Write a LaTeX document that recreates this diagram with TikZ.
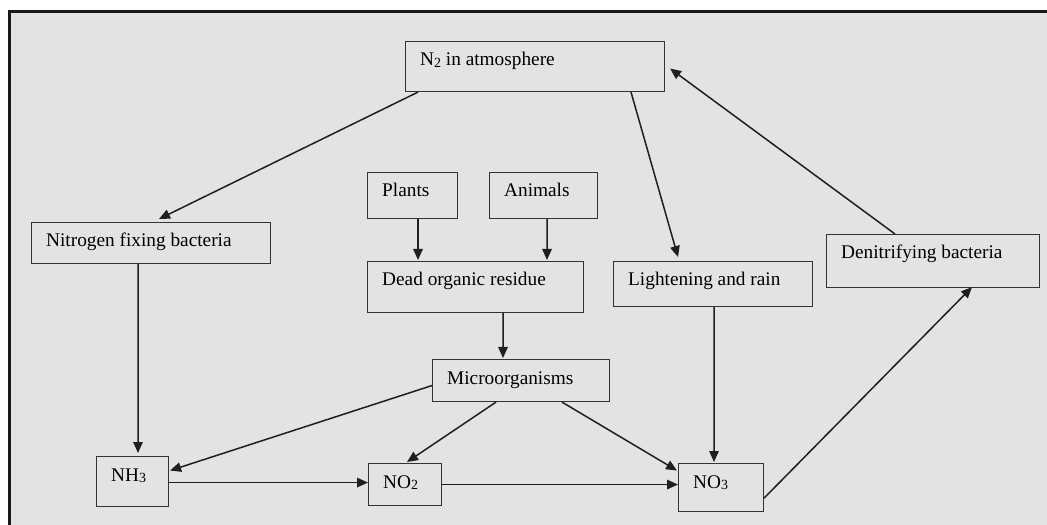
\documentclass[tikz,border=0pt]{standalone}
\usepackage{fontspec}
\setmainfont{Liberation Serif}
\usetikzlibrary{arrows.meta,calc}

\tikzset{
  box/.style={draw=black!80, line width=1.1bp, rectangle, inner sep=0pt, anchor=north west},
  lbl/.style={anchor=base west, inner sep=0pt, font=\fontsize{19.3bp}{23bp}\selectfont, text=black},
  flow/.style={draw=black!88, line width=1.5bp, -{Triangle[length=11bp,width=9.5bp]}},
}

% small lowered index, as in N2 and NH3
\newcommand{\idx}[1]{\raisebox{-1.6bp}{\fontsize{14bp}{14bp}\selectfont #1}}

% place a box of size w x h with its label indented from the top-left corner
\newcommand{\cyclebox}[6]{%
  \node[box, minimum width=#4bp, minimum height=#5bp] (#1) at (#2,#3) {};
  \node[lbl] (#1-t) at ([xshift=15bp,yshift=-25bp]#1.north west) {#6};
}

\begin{document}
\begin{tikzpicture}[x=1bp, y=-1bp]
  \useasboundingbox (0,0) rectangle (1047,525);
  \clip (0,0) rectangle (1047,525);
  \fill[white] (0,0) rectangle (1047,525);
  \filldraw[fill=black!11, draw=black!90, line width=3bp] (9.5,11.5) rectangle (1070,560);

  \cyclebox{n2}{405}{41}{259}{50}{N\idx{2} in atmosphere}
  \cyclebox{nfb}{31}{222}{239}{41}{Nitrogen fixing bacteria}
  \cyclebox{plants}{367}{172}{90}{46}{Plants}
  \cyclebox{animals}{489}{172}{108}{46}{Animals}
  \cyclebox{dead}{367}{261}{216}{51}{Dead organic residue}
  \cyclebox{light}{613}{261}{199}{45}{Lightening and rain}
  \cyclebox{denit}{826}{234}{213}{53}{Denitrifying bacteria}
  \cyclebox{micro}{432}{359}{177}{42}{Microorganisms}
  \cyclebox{nh3}{96}{456}{72}{50}{NH\idx{3}}
  \cyclebox{no2}{368}{463}{73}{42}{NO\idx{2}}
  \cyclebox{no3}{678}{463}{85}{48}{NO\idx{3}}

  % atmosphere and its two ways down
  \draw[flow] ([xshift=13bp]n2.south west) -- ([xshift=128bp,yshift=3bp]nfb.north west);
  \draw[flow] ([xshift=226bp]n2.south west) -- ([xshift=65bp,yshift=4bp]light.north west);
  \draw[flow] ([xshift=69bp]denit.north west) -- ([xshift=5bp,yshift=-2bp]n2.east);

  % fixation
  \draw[flow] ([xshift=107bp]nfb.south west) -- ([xshift=42bp,yshift=3bp]nh3.north west);

  % decay
  \draw[flow] ([xshift=51bp]plants.south west) -- ([xshift=51bp,yshift=1bp]dead.north west);
  \draw[flow] ([xshift=58bp]animals.south west) -- ([xshift=180bp,yshift=1bp]dead.north west);
  \draw[flow] ([xshift=136bp]dead.south west) -- ([xshift=71bp,yshift=1bp]micro.north west);
  \draw[flow] ([xshift=101bp]light.south west) -- ([xshift=36bp,yshift=1bp]no3.north west);

  % microorganisms to the nitrogen compounds
  \draw[flow] ([yshift=-5bp]micro.west) -- ([xshift=1bp,yshift=11bp]nh3.east);
  \draw[flow] ([xshift=64bp]micro.south west) -- ([xshift=39bp,yshift=1bp]no2.north west);
  \draw[flow] ([xshift=130bp]micro.south west) -- ([xshift=-1bp,yshift=17bp]no3.west);

  % nitrification chain
  \draw[flow] ([yshift=-1bp]nh3.east) -- ([yshift=-1bp]nh3.east -| no2.west);
  \draw[flow] (no2.east) -- (no2.east -| no3.west);

  % denitrification
  \draw[flow] ([yshift=14bp]no3.south east) -- ([xshift=146bp,yshift=1bp]denit.south west);
\end{tikzpicture}
\end{document}
